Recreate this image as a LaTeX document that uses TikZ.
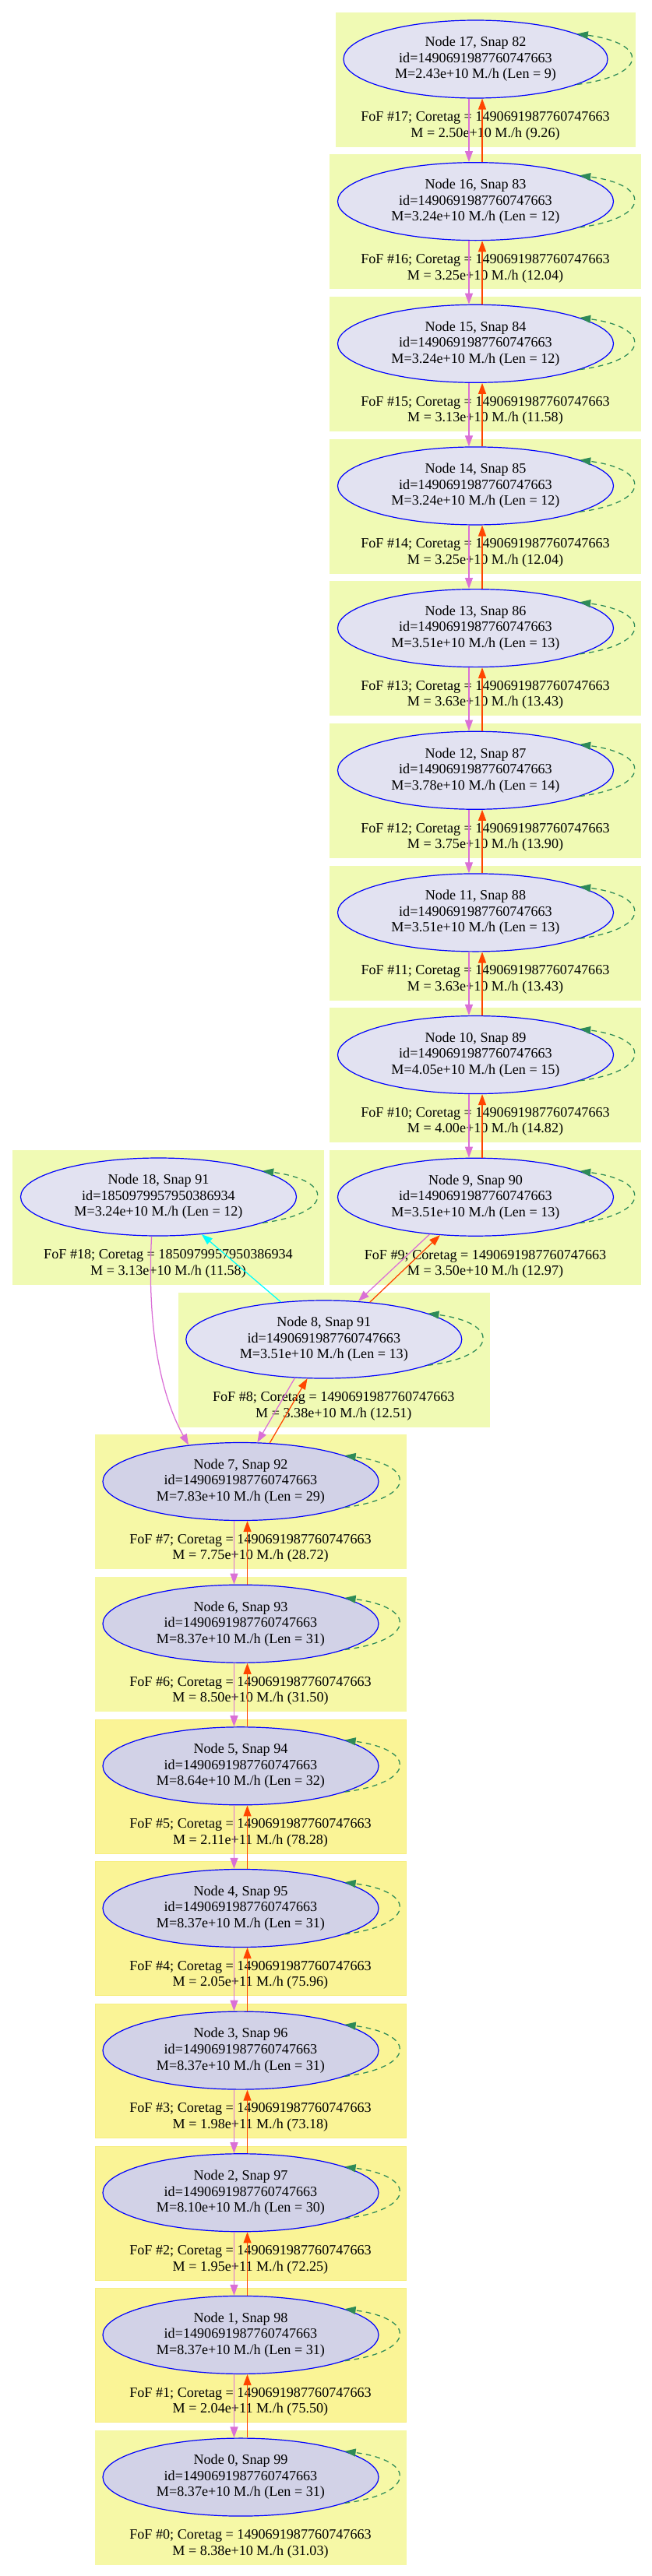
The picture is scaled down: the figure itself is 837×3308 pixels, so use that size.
\documentclass[tikz,border=0pt]{standalone}
\usepackage{fontspec}
\setmainfont{Liberation Serif}
\usetikzlibrary{arrows.meta,shapes.geometric}

\definecolor{fofgreen}{RGB}{240,250,180}
\definecolor{fofyellow}{RGB}{246,248,166}
\definecolor{fofgold}{RGB}{250,244,150}
\definecolor{fofgoldrim}{RGB}{247,238,128}
\definecolor{halolight}{RGB}{226,226,241}
\definecolor{halodark}{RGB}{210,210,231}
\definecolor{haloline}{RGB}{0,0,255}
\definecolor{progline}{RGB}{218,112,214}
\definecolor{descline}{RGB}{255,69,0}
\definecolor{mergeline}{RGB}{0,255,255}
\definecolor{loopline}{RGB}{46,139,87}

\begin{document}
\begin{tikzpicture}[x=0.75pt,y=-0.75pt,
    txt/.style={font=\fontsize{13.6}{15.4}\selectfont,align=center},
    halo/.style={ellipse,draw=haloline,line width=0.9pt,fill=#1,inner sep=0pt,minimum height=75pt,txt},
    fof/.style 2 args={fill=#1,draw=#2},
    headtip/.style={-{Triangle[length=10.5pt,width=7.5pt]},line width=0.95pt},
    prog/.style={headtip,draw=progline},
    desc/.style={headtip,draw=descline},
    merge/.style={headtip,draw=mergeline},
    selfloop/.style={headtip,draw=loopline,dash pattern=on 5pt off 4pt}]
    \useasboundingbox (0,0) rectangle (837,3308);

    \foreach \nd/\snap/\mass/\len/\fofm/\pct/\rx in {
        17/82/2.43e+10/9/2.50e+10/9.26/169.5,
        16/83/3.24e+10/12/3.25e+10/12.04/177,
        15/84/3.24e+10/12/3.13e+10/11.58/177,
        14/85/3.24e+10/12/3.25e+10/12.04/177,
        13/86/3.51e+10/13/3.63e+10/13.43/177,
        12/87/3.78e+10/14/3.75e+10/13.90/177,
        11/88/3.51e+10/13/3.63e+10/13.43/177,
        10/89/4.05e+10/15/4.00e+10/14.82/177,
        9/90/3.51e+10/13/3.50e+10/12.97/177}{
        \pgfmathsetmacro\cy{76+(17-\nd)*182.65}
        \path[fof={fofgreen}{fofgreen}] ({610.5-\rx-10},{\cy-60}) rectangle ({610.5+\rx+35},{\cy+112});
        \node[halo=halolight,minimum width={1.5pt*\rx}] (n\nd) at (610.5,\cy)
            {Node \nd, Snap \snap\\id=1490691987760747663\\M=\mass{} M./h (Len = \len)};
        \node[txt] (l\nd) at (623,\cy+86)
            {FoF \#\nd; Coretag = 1490691987760747663\\M = \fofm{} M./h (\pct)};
    }

    \path[fof={fofgreen}{fofgreen}] (16.5,1477) rectangle (415.5,1649);
    \node[halo=halolight,minimum width=265.5pt] (n18) at (203.5,1537)
        {Node 18, Snap 91\\id=1850979957950386934\\M=3.24e+10 M./h (Len = 12)};
    \node[txt] (l18) at (216,1623)
        {FoF \#18; Coretag = 1850979957950386934\\M = 3.13e+10 M./h (11.58)};

    \path[fof={fofgreen}{fofgreen}] (228.8,1660) rectangle (627.8,1832);
    \node[halo=halolight,minimum width=265.5pt] (n8) at (415.8,1720)
        {Node 8, Snap 91\\id=1490691987760747663\\M=3.51e+10 M./h (Len = 13)};
    \node[txt] (l8) at (428.3,1806)
        {FoF \#8; Coretag = 1490691987760747663\\M = 3.38e+10 M./h (12.51)};

    \foreach \nd/\snap/\mass/\len/\fofm/\pct/\clr/\rim in {
        7/92/7.83e+10/29/7.75e+10/28.72/fofyellow/fofyellow,
        6/93/8.37e+10/31/8.50e+10/31.50/fofyellow/fofyellow,
        5/94/8.64e+10/32/2.11e+11/78.28/fofgold/fofgoldrim,
        4/95/8.37e+10/31/2.05e+11/75.96/fofgold/fofgoldrim,
        3/96/8.37e+10/31/1.98e+11/73.18/fofgold/fofgoldrim,
        2/97/8.10e+10/30/1.95e+11/72.25/fofgold/fofgoldrim,
        1/98/8.37e+10/31/2.04e+11/75.50/fofgold/fofgoldrim,
        0/99/8.37e+10/31/8.38e+10/31.03/fofyellow/fofyellow}{
        \pgfmathsetmacro\cy{76+(17-\nd)*182.65}
        \path[fof={\clr}{\rim}] (122,{\cy-60}) rectangle (521,{\cy+112});
        \node[halo=halodark,minimum width=265.5pt] (n\nd) at (309,\cy)
            {Node \nd, Snap \snap\\id=1490691987760747663\\M=\mass{} M./h (Len = \len)};
        \node[txt] (l\nd) at (321.5,\cy+86)
            {FoF \#\nd; Coretag = 1490691987760747663\\M = \fofm{} M./h (\pct)};
    }

    \foreach \nd in {0,...,18}
        \draw[selfloop] (n\nd.-14) .. controls +(92,-12) and +(92,12) .. (n\nd.14);

    \foreach \nd [remember=\nd as \up (initially 17)] in {16,...,9}{
        \draw[prog] ([xshift=-6.4pt]n\up.south) -- ([xshift=-6.4pt]n\nd.north);
        \draw[desc] ([xshift=6.4pt]n\nd.north) -- ([xshift=6.4pt]n\up.south);
    }
    \foreach \nd [remember=\nd as \up (initially 7)] in {6,...,0}{
        \draw[prog] ([xshift=-6.4pt]n\up.south) -- ([xshift=-6.4pt]n\nd.north);
        \draw[desc] ([xshift=6.4pt]n\nd.north) -- ([xshift=6.4pt]n\up.south);
    }

    \draw[prog] (n9.-141) -- (n8.48);
    \draw[desc] (n8.39) -- (n9.-133);
    \draw[merge] (n8.139) -- (n18.-41);
    \draw[prog] (n18.-100) .. controls +(-6,113) and +(-37,-66) .. (n7.145);
    \draw[prog] (n8.-127) -- (n7.67);
    \draw[desc] (n7.53) -- (n8.-113);
\end{tikzpicture}
\end{document}
